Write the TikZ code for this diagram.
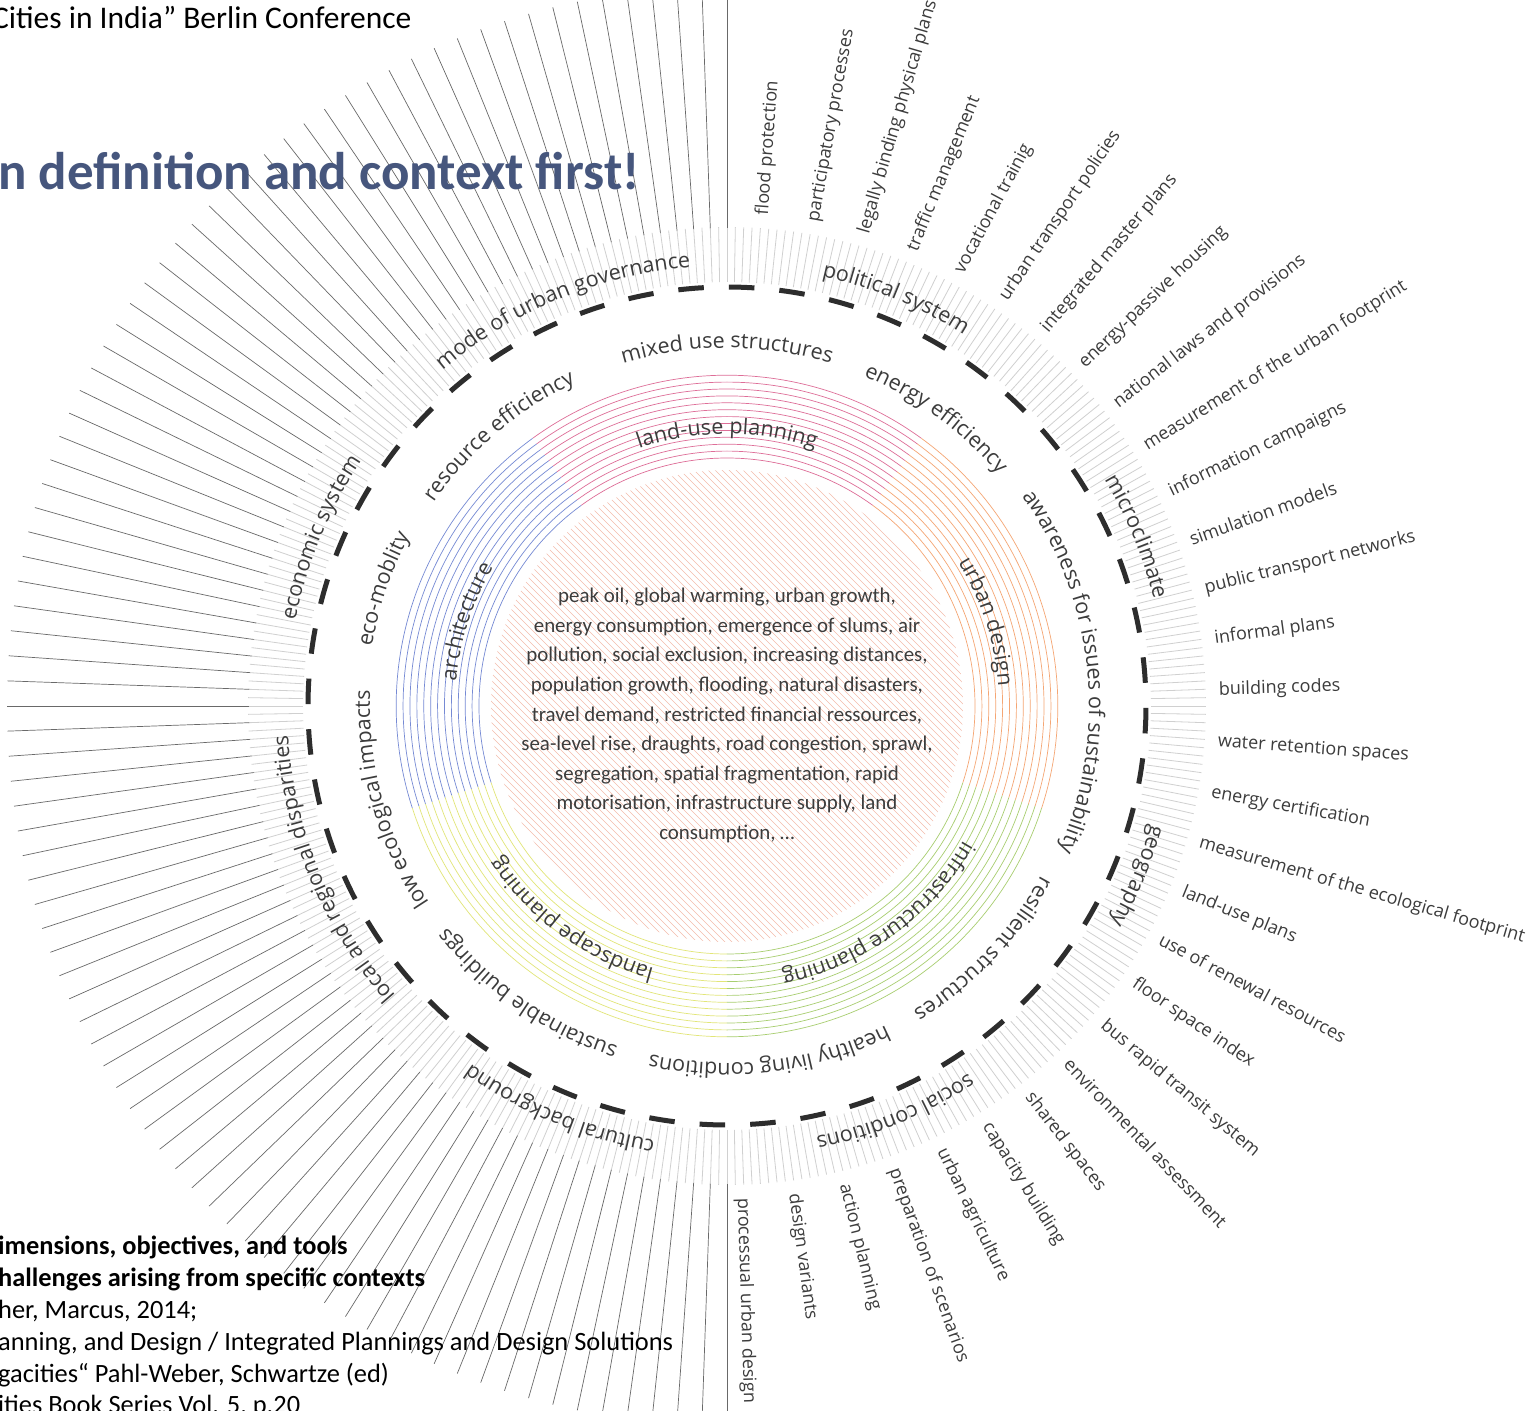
\documentclass[tikz,border=0pt]{standalone}
\usepackage{fontspec}
\setmainfont{Carlito}
\newfontfamily\opensansfam{Open Sans}
\usetikzlibrary{decorations.text}
\definecolor{titleblue}{RGB}{70,86,125}
\definecolor{labgray}{RGB}{60,60,60}
\definecolor{tickgray}{RGB}{208,208,208}
\definecolor{longgray}{RGB}{105,105,105}
\definecolor{dashgray}{RGB}{45,45,45}
\definecolor{hatchc}{RGB}{244,188,172}
\definecolor{pinkc}{RGB}{222,110,152}
\definecolor{bluec}{RGB}{118,138,212}
\definecolor{yellowc}{RGB}{226,230,120}
\definecolor{greenc}{RGB}{168,206,112}
\definecolor{orangec}{RGB}{245,166,116}
\newcommand\ringfnt{\opensansfam\fontsize{21.5pt}{25pt}\selectfont}
\newcommand\toolfnt{\opensansfam\fontsize{18pt}{21pt}\selectfont}
% #1 centre angle, #2 baseline radius, #3 half span, #4 text
\newcommand\arclabel[4]{%
  \path[decorate,decoration={text along path,text align=center,text color=labgray,
    text={|\ringfnt|#4}}]
    ({#1+#3}:#2pt) arc[start angle={#1+#3}, end angle={#1-#3}, radius=#2pt];}
\tikzset{
  toollab/.style={font=\toolfnt, text=labgray, inner sep=0pt, anchor=west},
  headtxt/.style={inner sep=0pt, anchor=base west, text=black},
}
\begin{document}
\begin{tikzpicture}[x=1pt,y=1pt]
\useasboundingbox (-727,-705) rectangle (810,706);
\clip (-727,-705) rectangle (810,706);
\fill[white] (-727,-705) rectangle (810,706);

% hatched core
\begin{scope}
  \clip (0,0) circle[radius=236pt];
  \foreach \s in {-336,-329,...,336}{
    \draw[hatchc, line width=0.55pt] ({\s/2-250},{\s/2+250}) -- ({\s/2+250},{\s/2-250});
  }
\end{scope}

% coloured rings
\foreach \c/\a in {pinkc/54, bluec/126, yellowc/198, greenc/270, orangec/342}{
  \foreach \k [evaluate=\k as \rr using 248+6.9*\k] in {0,...,12}{
    \draw[\c, line width=0.7pt] (\a:\rr pt) arc[start angle=\a, end angle=\a+72, radius=\rr pt];
  }
}

% ring labels (planning fields)
\arclabel{90}{272}{40}{land-use planning}
\arclabel{162}{272}{40}{architecture}
\arclabel{234}{272}{42}{landscape planning}
\arclabel{306}{272}{45}{infrastructure planning}
\arclabel{18}{272}{40}{urban design}

% objectives
\arclabel{90}{358}{35}{mixed use structures}
\arclabel{54}{357}{35}{energy efficiency}
\arclabel{6}{362}{48}{awareness for issues of sustainability}
\arclabel{316.5}{357}{35}{resilient structures}
\arclabel{277}{357}{40}{healthy living conditions}
\arclabel{235.3}{357}{38}{sustainable buildings}
\arclabel{195.5}{357}{38}{low ecological impacts}
\arclabel{161.2}{360}{30}{eco-moblity}
\arclabel{130.2}{357}{35}{resource efficiency}

% ticks
\foreach \a in {0,...,359}{
  \draw[tickgray, line width=0.8pt] (\a:424pt) -- (\a:479pt);
}
% long lines on the left half
\foreach \a in {90,92,...,270}{
  \draw[longgray, line width=0.7pt] (\a:478pt) -- (\a:720pt);
}

% dashed circle
\foreach \k [evaluate=\k as \c using 88+360/52*\k] in {0,...,51}{
  \draw[dashgray, line width=5pt] ({\c-1.75}:419pt) arc[start angle={\c-1.75}, end angle={\c+1.75}, radius=419pt];
}

% dimensions
\arclabel{112.5}{440}{30}{mode of urban governance}
\arclabel{67.5}{440}{25}{political system}
\arclabel{22.5}{440}{25}{microclimate}
\arclabel{-22.5}{440}{25}{geography}
\arclabel{-67.5}{440}{25}{social conditions}
\arclabel{247.5}{440}{25}{cultural background}
\arclabel{202.5}{440}{30}{local and regional disparities}
\arclabel{157.5}{440}{25}{economic system}

% tools
\foreach \k/\t in {0/flood protection, 1/participatory processes, 2/legally binding physical plans,
  3/traffic management, 4/vocational trainig, 5/urban transport policies, 6/integrated master plans,
  7/energy-passive housing, 8/national laws and provisions, 9/measurement of the urban footprint,
  10/information campaigns, 11/simulation models, 12/public transport networks, 13/informal plans,
  14/building codes, 15/water retention spaces, 16/energy certification,
  17/measurement of the ecological footprint, 18/land-use plans, 19/use of renewal resources,
  20/floor space index, 21/bus rapid transit system, 22/environmental assessment, 23/shared spaces,
  24/capacity building, 25/urban agriculture, 26/preparation of scenarios, 27/action planning,
  28/design variants, 29/processual urban design}{
  \pgfmathsetmacro\ang{85.8-6*\k}
  \node[toollab, rotate=\ang] (tool\k) at (\ang:492pt) {\t};
}

% centre text
\node[align=center, text=labgray, inner sep=0pt, font=\fontsize{20.9pt}{29.6pt}\selectfont] (ctr) at (0,-9.5)
{peak oil, global warming, urban growth,\\
energy consumption, emergence of slums, air\\
pollution, social exclusion, increasing distances,\\
population growth, flooding, natural disasters,\\
travel demand, restricted financial ressources,\\
sea-level rise, draughts, road congestion, sprawl,\\
segregation, spatial fragmentation, rapid\\
motorisation, infrastructure supply, land\\
consumption, \dots};

% slide texts
\node[headtxt, font=\fontsize{31.5pt}{36pt}\selectfont] (conf) at (-735,677) {Cities in India” Berlin Conference};
\node[headtxt, text=titleblue, font=\bfseries\fontsize{53pt}{60pt}\selectfont] (title) at (-729,516) {n definition and context first!};
\node[headtxt, font=\bfseries\fontsize{26.4pt}{32pt}\selectfont] (b1) at (-729,-548) {imensions, objectives, and tools};
\node[headtxt, font=\bfseries\fontsize{26.4pt}{32pt}\selectfont] (b2) at (-729,-580) {hallenges arising from specific contexts};
\node[headtxt, font=\fontsize{26.4pt}{32pt}\selectfont] (b3) at (-729,-612) {her, Marcus, 2014;};
\node[headtxt, font=\fontsize{26.4pt}{32pt}\selectfont] (b4) at (-729,-644) {anning, and Design / Integrated Plannings and Design Solutions};
\node[headtxt, font=\fontsize{26.4pt}{32pt}\selectfont] (b5) at (-729,-676) {gacities“ Pahl-Weber, Schwartze (ed)};
\node[headtxt, font=\fontsize{26.4pt}{32pt}\selectfont] (b6) at (-729,-707) {ities Book Series Vol. 5, p.20};
\end{tikzpicture}
\end{document}
